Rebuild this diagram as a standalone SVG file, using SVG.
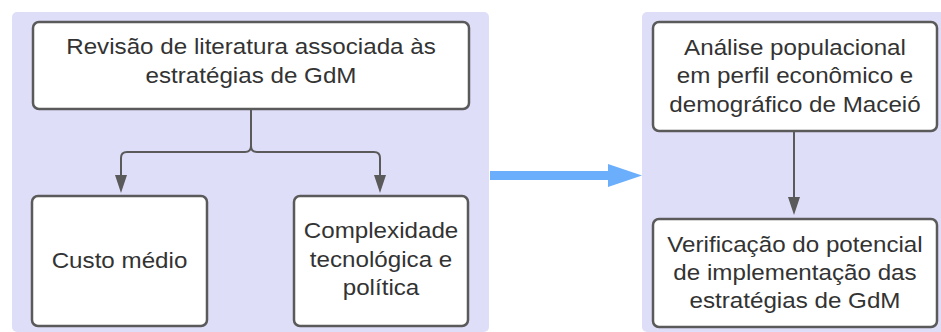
<svg xmlns="http://www.w3.org/2000/svg" width="941" height="332" viewBox="0 0 941 332">
<defs>
<style>
.panel{fill:#dfdef9;}
.box{fill:#ffffff;stroke:#5a5a5a;stroke-width:2.5;}
.t{font-family:"Liberation Sans",Arial,sans-serif;font-size:21.5px;fill:#333333;text-anchor:middle;}
.con{fill:none;stroke:#5a5a5a;stroke-width:2;}
</style>
</defs>
<rect class="panel" x="12" y="12" width="477" height="320" rx="5"/>
<rect class="panel" x="642" y="12" width="305" height="320" rx="5"/>
<g id="connectors">
<path class="con" d="M251,109 V146 Q251,152 245,152 H127 Q121,152 121,158 V180"/>
<path class="con" d="M251,146 Q251,152 257,152 H374 Q380,152 380,158 V180"/>
<polygon points="115,175 127,175 121,193" fill="#5a5a5a"/>
<polygon points="374,175 386,175 380,193" fill="#5a5a5a"/>
<path class="con" d="M794,131 V200"/>
<polygon points="788,197 800,197 794,215" fill="#5a5a5a"/>
<rect x="490" y="171" width="120" height="9" fill="#6aaefc"/>
<polygon points="608,164 642,175.5 608,187" fill="#6aaefc"/>
</g>
<g id="n1">
<rect class="box" x="33" y="22" width="436" height="87" rx="6"/>
<text class="t" transform="translate(251,54) scale(1.125,1)">Revisão de literatura associada às</text>
<text class="t" transform="translate(251,83) scale(1.125,1)">estratégias de GdM</text>
</g>
<g id="n2">
<rect class="box" x="32" y="196" width="175" height="130" rx="6"/>
<text class="t" transform="translate(119.5,268) scale(1.125,1)">Custo médio</text>
</g>
<g id="n3">
<rect class="box" x="294" y="196" width="174" height="130" rx="6"/>
<text class="t" transform="translate(381,238) scale(1.125,1)">Complexidade</text>
<text class="t" transform="translate(381,267) scale(1.125,1)">tecnológica e</text>
<text class="t" transform="translate(381,295) scale(1.125,1)">política</text>
</g>
<g id="n4">
<rect class="box" x="653" y="22" width="284" height="109" rx="6"/>
<text class="t" transform="translate(795,55) scale(1.125,1)">Análise populacional</text>
<text class="t" transform="translate(795,83) scale(1.125,1)">em perfil econômico e</text>
<text class="t" transform="translate(795,112) scale(1.125,1)">demográfico de Maceió</text>
</g>
<g id="n5">
<rect class="box" x="653" y="219" width="284" height="108" rx="6"/>
<text class="t" transform="translate(795,252) scale(1.125,1)">Verificação do potencial</text>
<text class="t" transform="translate(795,280) scale(1.125,1)">de implementação das</text>
<text class="t" transform="translate(795,308) scale(1.125,1)">estratégias de GdM</text>
</g>
</svg>
